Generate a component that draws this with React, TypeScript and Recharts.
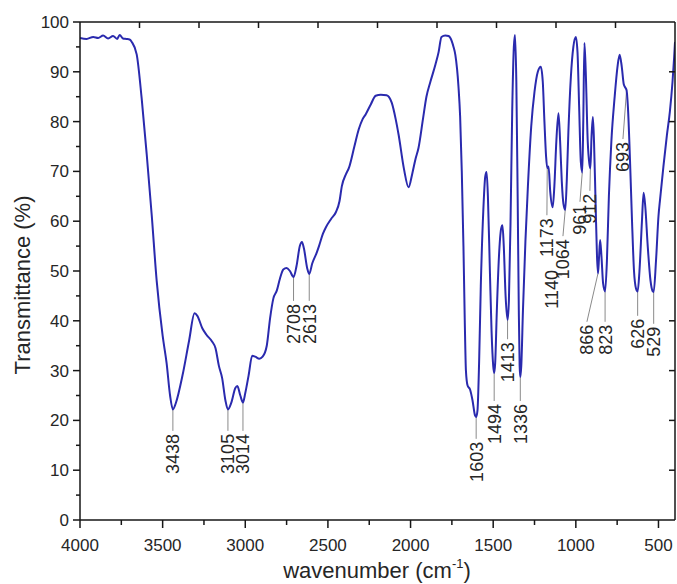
import React from 'react';
import { LineChart, Line, XAxis, YAxis, ReferenceLine, ReferenceDot } from 'recharts';

// ---- data ----
const wavenumbers = [
  4000, 3960, 3920, 3890, 3860, 3830, 3800, 3775, 3760, 3740, 3720, 3700, 3687, 3657, 3627, 3596, 3566, 3536, 3500, 3476,
  3455, 3438, 3420, 3380, 3340, 3307, 3290, 3260, 3235, 3200, 3180, 3160, 3140, 3120, 3105, 3085, 3060, 3048, 3030, 3014,
  3000, 2980, 2958, 2940, 2915, 2895, 2870, 2850, 2830, 2810, 2790, 2770, 2750, 2730, 2708, 2690, 2670, 2657, 2645, 2625,
  2613, 2595, 2570, 2554, 2530, 2512, 2480, 2452, 2430, 2416, 2390, 2373, 2340, 2313, 2290, 2271, 2240, 2211, 2180, 2145,
  2114, 2090, 2072, 2040, 2012, 1990, 1970, 1952, 1925, 1904, 1880, 1849, 1830, 1813, 1790, 1770, 1759, 1740, 1729, 1710,
  1700, 1690, 1680, 1672, 1665, 1655, 1640, 1625, 1610, 1603, 1595, 1585, 1575, 1560, 1548, 1540, 1532, 1520, 1510, 1500,
  1494, 1488, 1478, 1465, 1452, 1444, 1436, 1425, 1413, 1405, 1395, 1385, 1375, 1368, 1360, 1352, 1345, 1340, 1336, 1330,
  1320, 1305, 1290, 1270, 1250, 1230, 1212, 1200, 1190, 1180, 1173, 1165, 1155, 1140, 1130, 1118, 1105, 1095, 1085, 1075,
  1064, 1055, 1045, 1030, 1015, 1000, 990, 980, 970, 961, 955, 948, 940, 928, 918, 912, 905, 897, 890, 880,
  872, 866, 860, 853, 845, 835, 823, 812, 800, 785, 765, 748, 735, 722, 710, 700, 693, 685, 672, 660,
  648, 636, 626, 615, 600, 590, 580, 565, 548, 536, 529, 515, 500, 490, 470, 449, 431, 415, 405, 400,
];
const transmittance = [
  96.8, 96.6, 97.0, 96.8, 97.3, 96.7, 97.2, 96.6, 97.4, 96.7, 96.6, 96.5, 96.0, 93.5, 84.7, 73.3, 61.2, 48.0, 37.0, 31.5,
  25.0, 22.2, 23.5, 29.0, 36.0, 41.5, 41.0, 38.5, 37.2, 35.8, 34.5, 31.0, 28.5, 24.0, 22.2, 23.5, 26.5, 26.9, 25.0, 23.6,
  25.5, 29.0, 33.0, 32.8, 32.4, 32.8, 35.0, 40.5, 44.5, 46.0, 48.5, 50.3, 50.6, 50.0, 48.8, 51.0, 55.0, 55.8, 54.5, 50.5,
  49.4, 51.5, 53.5, 55.0, 57.5, 58.8, 60.5, 61.8, 64.0, 67.0, 69.5, 70.7, 75.0, 78.5, 80.5, 81.5, 83.5, 85.2, 85.4, 85.3,
  83.8, 80.5, 77.3, 70.5, 66.8, 69.5, 72.5, 74.7, 80.5, 85.0, 88.0, 91.5, 94.0, 97.0, 97.3, 97.2, 96.8, 95.0, 93.4, 87.0,
  81.0, 70.0, 55.0, 40.0, 30.0, 27.0, 26.2, 24.0, 21.0, 20.7, 22.0, 32.0, 47.0, 62.0, 69.0, 69.9, 65.0, 50.0, 38.0, 31.0,
  29.5, 31.5, 42.0, 53.0, 58.5, 59.2, 55.0, 45.0, 40.2, 44.0, 60.0, 82.0, 95.0, 97.4, 88.0, 65.0, 42.0, 31.0, 28.7, 31.0,
  42.0, 56.0, 67.0, 79.0, 86.0, 90.0, 91.0, 88.0, 80.0, 73.0, 70.7, 71.0, 66.0, 62.8, 67.0, 76.0, 81.7, 76.0, 68.0, 63.5,
  62.3, 68.0, 78.0, 89.0, 95.0, 97.0, 94.0, 83.0, 72.0, 69.8, 80.0, 95.8, 90.0, 76.0, 71.5, 70.6, 77.0, 80.9, 76.0, 63.0,
  53.0, 49.5, 52.5, 56.2, 53.0, 47.5, 45.9, 52.0, 65.0, 76.0, 85.0, 91.0, 93.4, 91.0, 87.5, 86.8, 86.3, 83.0, 72.0, 60.0,
  50.0, 46.5, 45.9, 50.0, 60.0, 65.7, 63.0, 55.0, 48.0, 46.0, 45.8, 52.0, 61.0, 64.5, 71.0, 77.3, 82.0, 88.0, 93.0, 96.0,
];

const xMajorTicks = [4000, 3500, 3000, 2500, 2000, 1500, 1000, 500];
const xBottomTicks = [4000, 3750, 3500, 3250, 3000, 2750, 2500, 2250, 2000, 1750, 1500, 1250, 1000, 750, 500];
const xTopTicks = [3640, 3280, 2920, 2560, 2200, 1840, 1480, 1120, 760];
const yLeftTicks = [0, 5, 10, 15, 20, 25, 30, 35, 40, 45, 50, 55, 60, 65, 70, 75, 80, 85, 90, 95, 100];
const yRightTicks = [10, 20, 30, 40, 50, 60, 70, 80, 90];
const X_MIN = 400;
const X_MAX = 4000;
const Y_MIN = 0;
const Y_MAX = 100;

// peak labels: text, band position, transmittance at band
const peakNames = ['3438', '3105', '3014', '2708', '2613', '1603', '1494', '1413', '1336', '1173', '1140', '1064', '961', '912', '866', '823', '693', '626', '529'];
const peakBands = [3438, 3105, 3014, 2708, 2613, 1603, 1494, 1413, 1336, 1173, 1140, 1064, 961, 912, 866, 823, 693, 626, 529];
const peakBandT = [22.2, 22.2, 23.6, 48.8, 49.4, 20.7, 29.5, 40.2, 28.7, 70.7, 62.8, 62.3, 69.8, 70.6, 49.5, 45.9, 86.3, 45.9, 45.8];

// annotation layout (text column x in wavenumber, text top in % T), leader drawn or not
const labelTextW = [3438, 3105, 3014, 2708, 2613, 1603, 1494, 1413, 1336, 1175, 1145, 1078, 975, 915, 933, 823, 715, 626, 529];
const labelTopT = [17.7, 17.7, 17.7, 43.8, 43.8, 16.1, 23.7, 36.1, 23.7, 61.0, 50.6, 56.8, 63.7, 65.9, 39.6, 39.6, 76.3, 40.8, 39.2];
const labelLeader = [true, true, true, true, true, true, true, true, true, true, false, true, true, true, true, true, true, true, true];

const data = wavenumbers.map((w, i) => ({ w, t: transmittance[i] }));

// layout
const CHART_W = 677;
const CHART_H = 584;
const M_TOP = 22;
const M_RIGHT = 2;
const Y_AXIS_W = 80;
const X_AXIS_H = 64;
const PLOT_LEFT = Y_AXIS_W;
const PLOT_TOP = M_TOP;
const PLOT_RIGHT = CHART_W - M_RIGHT;
const PLOT_BOTTOM = CHART_H - X_AXIS_H;
// same linear mappings as the chart axes (x reversed), used only for the frame overlay
const frameX = (w: number) => PLOT_LEFT + ((X_MAX - w) / (X_MAX - X_MIN)) * (PLOT_RIGHT - PLOT_LEFT);
const frameY = (t: number) => PLOT_BOTTOM - ((t - Y_MIN) / (Y_MAX - Y_MIN)) * (PLOT_BOTTOM - PLOT_TOP);

const FONT = '"Liberation Sans", Arial, sans-serif';
const TXT = '#262626';
const AX = '#161616';

const BottomTick = (props: any) => {
  const { x, y, payload } = props;
  const major = xMajorTicks.includes(payload.value);
  return (
    <g>
      <line x1={x} y1={y} x2={x} y2={y + (major ? 8 : 5)} stroke={AX} strokeWidth={1.5} />
      {major && (
        <text x={x} y={y + 31} textAnchor="middle" fontSize={17} fill={TXT} fontFamily={FONT}>
          {payload.value}
        </text>
      )}
    </g>
  );
};

const LeftTick = (props: any) => {
  const { x, y, payload } = props;
  const major = payload.value % 10 === 0;
  return (
    <g>
      <line x1={x} y1={y} x2={x - (major ? 7 : 4)} y2={y} stroke={AX} strokeWidth={1.5} />
      {major && (
        <text x={x - 11} y={y + 6} textAnchor="end" fontSize={17} fill={TXT} fontFamily={FONT}>
          {payload.value}
        </text>
      )}
    </g>
  );
};

const makeLabelShape = (text: string) => (p: any) => (
  <text
    x={p.cx}
    y={p.cy}
    dx={-2}
    dy="0.36em"
    transform={`rotate(-90 ${p.cx} ${p.cy})`}
    textAnchor="end"
    fontSize={18}
    fill={TXT}
    fontFamily={FONT}
  >
    {text}
  </text>
);

// top and right frame of the plot box with inward ticks
const Frame = () => (
  <svg
    width={CHART_W}
    height={CHART_H}
    style={{ position: 'absolute', left: 0, top: 0, pointerEvents: 'none', zIndex: 5 }}
  >
    <line x1={PLOT_LEFT} y1={PLOT_TOP} x2={PLOT_RIGHT} y2={PLOT_TOP} stroke={AX} strokeWidth={1.5} />
    <line x1={PLOT_RIGHT} y1={PLOT_TOP} x2={PLOT_RIGHT} y2={PLOT_BOTTOM} stroke={AX} strokeWidth={1.5} />
    {xTopTicks.map((w) => (
      <line key={'tt' + w} x1={frameX(w)} y1={PLOT_TOP} x2={frameX(w)} y2={PLOT_TOP + 6} stroke={AX} strokeWidth={1.5} />
    ))}
    {yRightTicks.map((t) => (
      <line key={'rt' + t} x1={PLOT_RIGHT} y1={frameY(t)} x2={PLOT_RIGHT - 6} y2={frameY(t)} stroke={AX} strokeWidth={1.5} />
    ))}
  </svg>
);

export default function App() {
  return (
    <div style={{ position: 'absolute', left: 0, top: 0, width: CHART_W, height: CHART_H, background: '#fff' }}>
      <LineChart width={CHART_W} height={CHART_H} data={data} margin={{ top: M_TOP, right: M_RIGHT, bottom: 0, left: 0 }}>
        <XAxis
          dataKey="w"
          type="number"
          domain={[X_MIN, X_MAX]}
          reversed
          allowDataOverflow
          ticks={xBottomTicks}
          interval={0}
          tickSize={0}
          tickMargin={0}
          height={X_AXIS_H}
          tick={<BottomTick />}
          axisLine={{ stroke: AX, strokeWidth: 1.5 }}
          label={{
            content: () => (
              <text x={377} y={PLOT_BOTTOM + 58} textAnchor="middle" fontSize={22} fill={TXT} fontFamily={FONT}>
                wavenumber (cm
                <tspan dy={-10} fontSize={13}>-1</tspan>
                <tspan dy={10}>)</tspan>
              </text>
            ),
          }}
        />
        <YAxis
          type="number"
          domain={[Y_MIN, Y_MAX]}
          allowDataOverflow
          ticks={yLeftTicks}
          interval={0}
          tickSize={0}
          tickMargin={0}
          width={Y_AXIS_W}
          tick={<LeftTick />}
          axisLine={{ stroke: AX, strokeWidth: 1.5 }}
          label={{
            content: () => (
              <text
                x={22}
                y={285}
                transform="rotate(-90 22 285)"
                dy="0.36em"
                textAnchor="middle"
                fontSize={22}
                fill={TXT}
                fontFamily={FONT}
              >
                Transmittance (%)
              </text>
            ),
          }}
        />
        {peakNames.map((n, i) =>
          labelLeader[i] ? (
            <ReferenceLine
              key={'l' + n}
              segment={[
                { x: peakBands[i], y: peakBandT[i] },
                { x: labelTextW[i], y: labelTopT[i] + 0.2 },
              ]}
              stroke="#8a8a8a"
              strokeWidth={1}
              ifOverflow="visible"
            />
          ) : null
        )}
        <ReferenceLine
          segment={[
            { x: 1118, y: 49.2 },
            { x: 1082, y: 49.2 },
          ]}
          stroke="#8a8a8a"
          strokeWidth={1}
          ifOverflow="visible"
        />
        <Line
          dataKey="t"
          type="monotone"
          stroke="#2a2aae"
          strokeWidth={2}
          dot={false}
          isAnimationActive={false}
        />
        {peakNames.map((n, i) => (
          <ReferenceDot
            key={'t' + n}
            x={labelTextW[i]}
            y={labelTopT[i]}
            r={0}
            ifOverflow="visible"
            shape={makeLabelShape(n)}
          />
        ))}
      </LineChart>
      <Frame />
    </div>
  );
}
